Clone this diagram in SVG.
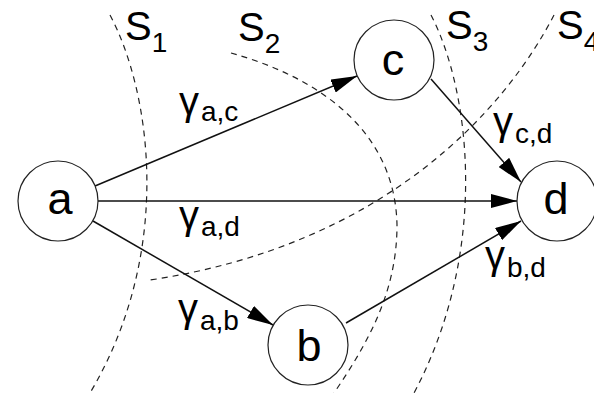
<svg xmlns="http://www.w3.org/2000/svg" width="594" height="393" viewBox="0 0 594 393">
<style>
.cut{fill:none;stroke:#222;stroke-width:1.2;stroke-dasharray:6,5}
.edge{fill:none;stroke:#111;stroke-width:1.5;marker-end:url(#arr)}
.node circle{fill:#fff;stroke:#222;stroke-width:1.2}
.node text{font-family:"Liberation Sans",Arial,sans-serif;font-size:45px;fill:#000;text-anchor:middle}
.lbl{font-family:"Liberation Sans",Arial,sans-serif;font-size:40px;fill:#000}
.sub{font-size:28px}
</style>
<defs>
<marker id="arr" viewBox="0 0 26 14" refX="26" refY="7" markerWidth="26" markerHeight="14" markerUnits="userSpaceOnUse" orient="auto">
<path d="M0,0 L26,7 L0,14 Z" fill="#000"/>
</marker>
</defs>
<rect width="594" height="393" fill="#fff"/>
<g id="cuts">
<path class="cut" d="M110,15 C150,90 175,250 90,393"/>
<path class="cut" d="M231,53 C310,75 395,125 397,225 C397,290 370,340 334,393"/>
<path class="cut" d="M431,15 C470,90 490,250 414,393"/>
<path class="cut" d="M554,15 C505,110 385,245 150,280"/>
</g>
<g id="cut-labels" class="lbl">
<text x="125" y="40">S<tspan class="sub" dy="12">1</tspan></text>
<text x="238" y="41">S<tspan class="sub" dy="12">2</tspan></text>
<text x="446" y="39">S<tspan class="sub" dy="12">3</tspan></text>
<text x="557" y="39">S<tspan class="sub" dy="12">4</tspan></text>
</g>
<g id="connectors">
<line class="edge" x1="95" y1="186" x2="357" y2="76"/>
<line class="edge" x1="98" y1="201" x2="517" y2="201"/>
<line class="edge" x1="93" y1="221" x2="273" y2="325"/>
<line class="edge" x1="431" y1="79" x2="521" y2="182"/>
<line class="edge" x1="346" y1="323" x2="521" y2="221"/>
</g>
<g id="edge-labels" class="lbl">
<text x="179" y="115">γ<tspan class="sub" dx="2" dy="6">a,c</tspan></text>
<text x="179" y="229">γ<tspan class="sub" dx="2" dy="7">a,d</tspan></text>
<text x="178" y="322">γ<tspan class="sub" dx="2" dy="8">a,b</tspan></text>
<text x="493" y="135">γ<tspan class="sub" dx="2" dy="8">c,d</tspan></text>
<text x="485" y="269">γ<tspan class="sub" dx="2" dy="8">b,d</tspan></text>
</g>
<g id="node-a" class="node"><circle cx="58" cy="201" r="40"/><text x="60" y="214">a</text></g>
<g id="node-c" class="node"><circle cx="394" cy="60" r="40"/><text x="393" y="75">c</text></g>
<g id="node-d" class="node"><circle cx="557" cy="201" r="40"/><text x="556" y="214">d</text></g>
<g id="node-b" class="node"><circle cx="308" cy="345" r="40"/><text x="309" y="361">b</text></g>
</svg>
